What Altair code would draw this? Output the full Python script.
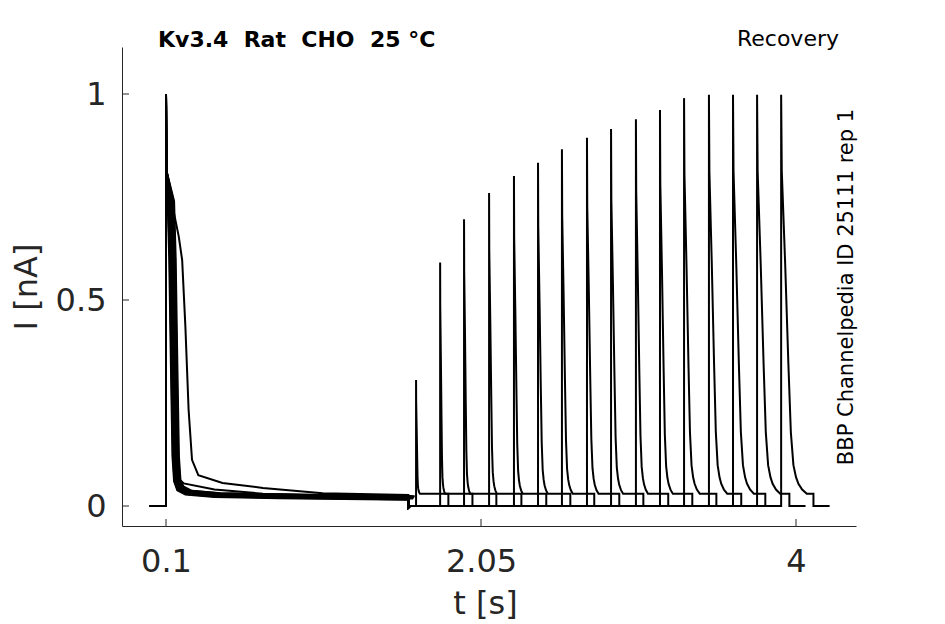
import altair as alt
import pandas as pd

# ---------------- data ----------------
# test pulse onset times [s] and peak currents [nA] (one per sweep)
TEST_START = [1.648, 1.797, 1.945, 2.100, 2.254, 2.403, 2.551, 2.706,
              2.855, 3.009, 3.158, 3.307, 3.461, 3.610, 3.759, 3.908]
TEST_PEAK = [0.306, 0.591, 0.696, 0.760, 0.801, 0.833, 0.866, 0.894,
             0.915, 0.939, 0.961, 0.990, 0.998, 0.998, 0.998, 0.998]
# relative speed of test-pulse decay (1 = slowest, last sweep)
TEST_DECAY = [0.15, 0.19, 0.24, 0.30, 0.34, 0.38, 0.42, 0.45,
              0.47, 0.47, 0.50, 0.61, 0.71, 0.81, 0.90, 1.00]
TEST_TAIL = 0.030
TEST_DUR = 0.200
SWEEP_END_AFTER_TEST = 0.300

# test pulse shape (read from the largest pulse): time after onset, fraction
TEST_T = [0.000, 0.004, 0.025, 0.045, 0.060, 0.076, 0.092, 0.107, 0.130, 0.159]
TEST_G = [1.000, 0.815, 0.590, 0.347, 0.184, 0.104, 0.075, 0.059, 0.045, 0.035]

# conditioning pulse (onset 0.1 s, end 1.6 s)
COND_ON = 0.1
COND_OFF = 1.6
SWEEP_START = 0.0
# fast inactivation (bulk of the sweeps)
FAST_T = [0.000, 0.002, 0.010, 0.020, 0.030, 0.040, 0.050, 0.070, 0.120, 0.300, 0.700, 1.100, 1.500]
FAST_I = [1.000, 0.815, 0.740, 0.600, 0.350, 0.120, 0.060, 0.038, 0.028, 0.022, 0.019, 0.017, 0.015]
# medium sweep
MED_T = [0.000, 0.002, 0.015, 0.030, 0.045, 0.055, 0.070, 0.110, 0.300, 0.600, 1.000, 1.500]
MED_I = [1.000, 0.815, 0.740, 0.600, 0.350, 0.120, 0.070, 0.055, 0.040, 0.030, 0.025, 0.022]
# slowest sweep
SLOW_T = [0.000, 0.002, 0.037, 0.079, 0.100, 0.120, 0.140, 0.161, 0.200, 0.350, 0.600, 0.970, 1.500]
SLOW_I = [1.000, 0.815, 0.735, 0.654, 0.597, 0.435, 0.233, 0.112, 0.075, 0.056, 0.044, 0.031, 0.027]
# per-sweep shift of the fast decay and tail offset for the bundle
BUNDLE_SHIFT = [0.000, 0.003, 0.006, 0.009, 0.012, 0.015, 0.018,
                0.021, 0.024, 0.027, 0.030, 0.033, 0.036, 0.040]
BUNDLE_TAIL = [0.000, 0.001, 0.002, 0.003, 0.004, 0.005, 0.006,
               0.007, 0.008, 0.009, 0.003, 0.005, 0.007, 0.009]

X_TICKS = [0.1, 2.05, 4]
Y_TICKS = [0, 0.5, 1]

# ---------------- build table ----------------
rows = []
for k in range(len(TEST_START)):
    pts = []
    pts.append((SWEEP_START, 0.0))
    pts.append((COND_ON, 0.0))
    if k == 0:
        ct, ci = SLOW_T, SLOW_I
    elif k == 1:
        ct, ci = MED_T, MED_I
    else:
        j = k - 2
        ct = [t if idx < 2 else t + BUNDLE_SHIFT[j] for idx, t in enumerate(FAST_T)]
        ci = [v if idx < 7 else v + BUNDLE_TAIL[j] for idx, v in enumerate(FAST_I)]
    for t, v in zip(ct, ci):
        pts.append((COND_ON + t, v))
    pts.append((COND_OFF, ci[-1]))
    pts.append((COND_OFF, -0.004))
    pts.append((COND_OFF + 0.01, 0.0))
    t0 = TEST_START[k]
    pts.append((t0, 0.0))
    p = TEST_PEAK[k]
    s = TEST_DECAY[k]
    for t, g in zip(TEST_T, TEST_G):
        frac = (g - TEST_G[-1]) / (TEST_G[0] - TEST_G[-1])
        pts.append((t0 + t * s, TEST_TAIL + (p - TEST_TAIL) * frac))
    pts.append((t0 + TEST_DUR, TEST_TAIL))
    pts.append((t0 + TEST_DUR, 0.0))
    pts.append((t0 + SWEEP_END_AFTER_TEST, 0.0))
    for n, (t, v) in enumerate(pts):
        rows.append({"sweep": k, "n": n, "t": t, "i": v})

df = pd.DataFrame(rows)

W, H = 734, 479
xscale = alt.Scale(domain=[-0.1724, 4.3714], nice=False, zero=False)
yscale = alt.Scale(domain=[-0.0485, 1.1141], nice=False, zero=False)
AX = "#262626"
FONT = "DejaVu Sans"
NB = "\u00a0"

lines = alt.Chart(df).mark_line(color="black", strokeWidth=2, clip=True).encode(
    x=alt.X("t:Q", scale=xscale,
            axis=alt.Axis(values=X_TICKS, labelExpr="format(datum.value, '.3~g')",
                          title="t [s]",
                          titleX=363, titleY=77, titleBaseline="middle",
                          titleAlign="center")),
    y=alt.Y("i:Q", scale=yscale,
            axis=alt.Axis(values=Y_TICKS, labelExpr="format(datum.value, '.2~g')",
                          title="I [nA]",
                          titleX=-96, titleY=H / 2, titleBaseline="middle",
                          titleAlign="center", titleAngle=-90)),
    detail="sweep:N",
    order="n:Q",
)

ytick_df = pd.DataFrame({"v": Y_TICKS})
xtick_df = pd.DataFrame({"v": X_TICKS})
yticks = alt.Chart(ytick_df).mark_rule(color=AX, strokeWidth=1).encode(
    y=alt.Y("v:Q", scale=yscale), x=alt.value(0), x2=alt.value(7))
xticks = alt.Chart(xtick_df).mark_rule(color=AX, strokeWidth=1).encode(
    x=alt.X("v:Q", scale=xscale), y=alt.value(H), y2=alt.value(H - 7))

title_df = pd.DataFrame({"txt": ["Kv3.4" + NB + " Rat" + NB + " CHO" + NB + " 25 °C"]})
title = alt.Chart(title_df).mark_text(
    font=FONT, fontSize=22, fontWeight="bold", color="black",
    align="left", baseline="alphabetic").encode(
    text="txt:N", x=alt.value(36), y=alt.value(0))

rec_df = pd.DataFrame({"txt": ["Recovery"]})
rec = alt.Chart(rec_df).mark_text(
    font=FONT, fontSize=22, color="black", align="right",
    baseline="alphabetic").encode(
    text="txt:N", x=alt.value(717), y=alt.value(-1))

id_df = pd.DataFrame({"txt": ["BBP Channelpedia ID 25111 rep 1"]})
idtxt = alt.Chart(id_df).mark_text(
    font=FONT, fontSize=21, color="black", align="center",
    baseline="alphabetic", angle=270).encode(
    text="txt:N", x=alt.value(731), y=alt.value(240))

chart = alt.layer(lines, yticks, xticks, title, rec, idtxt).properties(
    width=W, height=H,
    autosize=alt.AutoSizeParams(type="none"),
    padding={"left": 114, "top": 39, "right": 70, "bottom": 97},
).configure_view(stroke=None).configure_axis(
    grid=False, ticks=False, domainColor=AX, domainWidth=1,
    labelFont=FONT, labelFontSize=32, labelColor=AX,
    titleFont=FONT, titleFontSize=32, titleColor=AX, titleFontWeight="normal",
).configure_axisY(labelPadding=16).configure_axisX(labelPadding=20)

chart.save("out.html", embed_options={"renderer": "svg", "actions": False})
